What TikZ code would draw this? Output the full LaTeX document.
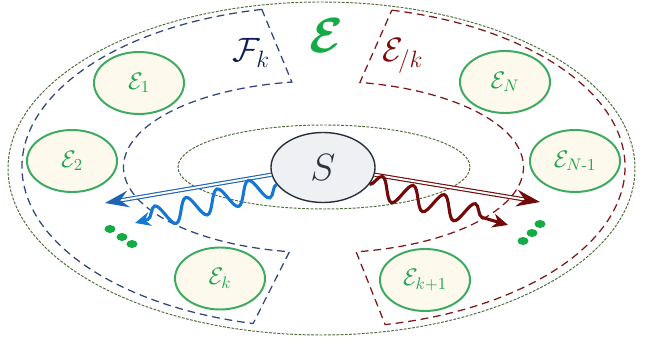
\RequirePackage{fix-cm}
\documentclass[tikz,border=0pt]{standalone}
\usepackage{amsmath}
\usepackage{xcolor}
\usepackage{tikz}
\usetikzlibrary{shapes.geometric, arrows.meta, decorations.pathmorphing, calc}
\definecolor{envgreen}{RGB}{60,170,95}
\definecolor{envtext}{RGB}{30,165,80}
\definecolor{envfill}{RGB}{253,249,236}
\definecolor{bigegreen}{RGB}{20,170,70}
\definecolor{sysline}{RGB}{40,48,60}
\definecolor{sysfill}{RGB}{238,240,244}
\definecolor{systext}{RGB}{45,52,64}
\definecolor{fkblue}{RGB}{15,30,90}
\definecolor{fkdash}{RGB}{50,70,125}
\definecolor{ekred}{RGB}{125,10,10}
\definecolor{ekdash}{RGB}{125,25,25}
\definecolor{ringgreen}{RGB}{80,110,60}
\definecolor{wavblue}{RGB}{20,120,210}
\definecolor{dblblue}{RGB}{30,100,180}
\definecolor{wavred}{RGB}{115,10,10}
\tikzset{
  env/.style={ellipse, draw=envgreen, fill=envfill, line width=1.4pt, text=envtext,
    minimum width=2.25cm, minimum height=1.55cm, inner sep=0pt,
    font=\fontsize{17}{19}\selectfont},
  sysnode/.style={ellipse, draw=sysline, fill=sysfill, line width=1pt, text=systext,
    minimum width=2.6cm, minimum height=1.75cm, inner sep=0pt,
    font=\fontsize{27}{30}\selectfont},
  ring/.style={draw=ringgreen, line width=0.7pt, dash pattern=on 2pt off 1pt},
  fkreg/.style={draw=fkdash, line width=0.9pt, dash pattern=on 5.5pt off 3.5pt},
  ekreg/.style={draw=ekdash, line width=0.9pt, dash pattern=on 5.5pt off 3.5pt},
  dbl/.style={double, double distance=1.4pt, line width=0.8pt,
    -{Stealth[length=17pt, width=12pt, inset=6pt]}},
  wav/.style={line width=2.2pt, -{Stealth[length=11pt, width=10pt]},
    decorate, decoration={snake, amplitude=8pt, segment length=23pt, post length=8pt}},
  dotg/.style={fill=bigegreen},
}
\begin{document}
\begin{tikzpicture}[x=0.025cm, y=0.025cm]
\useasboundingbox (-323,-177) rectangle (323,170);
% rings
\draw[ring] (-1.5,1.5) ellipse (313.5 and 166.5);
\draw[ring] (1,3) ellipse (146 and 42);
% regions F_k and E_/k
\coordinate (rc) at (0.5,3);
\draw[fkreg] ($(rc)+(101.8:301.5 and 161)$) arc[start angle=101.8, end angle=256.5, x radius=301.5, y radius=161]
  -- ($(rc)+(260.2:200 and 86)$) arc[start angle=260.2, end angle=99.1, x radius=200, y radius=86] -- cycle;
\draw[ekreg] ($(rc)+(76.9:301.5 and 161)$) arc[start angle=76.9, end angle=-78.2, x radius=301.5, y radius=161]
  -- ($(rc)+(-80.6:200 and 86)$) arc[start angle=-80.6, end angle=79.5, x radius=200, y radius=86] -- cycle;
% labels
\node[text=bigegreen, font=\fontsize{35}{38}\selectfont] (Eall) at (3,134) {$\boldsymbol{\mathcal{E}}$};
\node[text=fkblue, font=\fontsize{24}{28}\selectfont] (Fk) at (-72,117) {$\mathcal{F}_{k}$};
\node[text=ekred, font=\fontsize{24}{28}\selectfont] (Ek) at (80,114) {$\mathcal{E}_{\mkern-2mu/k}$};
% environments
\node[env] (e1) at (-184,87) {$\mathcal{E}_{1}$};
\node[env] (e2) at (-251,9) {$\mathcal{E}_{2}$};
\node[env] (ek) at (-103,-108.5) {$\mathcal{E}_{k}$};
\node[env] (eN) at (182,88) {$\mathcal{E}_{N}$};
\node[env] (eN1) at (252,9) {$\mathcal{E}_{N\text{-}1}$};
\node[env] (ek1) at (102,-110) {$\mathcal{E}_{k+1}$};
% system
\node[sysnode] (S) at (0,2.5) {$S$};
% arrows
\coordinate (bd) at (-218,-33);
\coordinate (bw) at (-188,-53);
\coordinate (rd) at (217,-32);
\coordinate (rw) at (185,-55);
\draw[dbl, draw=dblblue] (S.188) -- (bd);
\draw[wav, draw=wavblue] (S.200) -- (bw);
\draw[dbl, draw=wavred] (S.352) -- (rd);
\draw[wav, draw=wavred] (S.340) -- (rw);
% dots
\fill[dotg] (-213,-59) ellipse (5.5 and 4);
\fill[dotg] (-201,-67) ellipse (5.5 and 4);
\fill[dotg] (-191,-74) ellipse (5.5 and 4);
\fill[dotg] (217,-54) ellipse (5.5 and 4);
\fill[dotg] (209,-63) ellipse (5.5 and 4);
\fill[dotg] (200,-71) ellipse (5.5 and 4);
\end{tikzpicture}
\end{document}
